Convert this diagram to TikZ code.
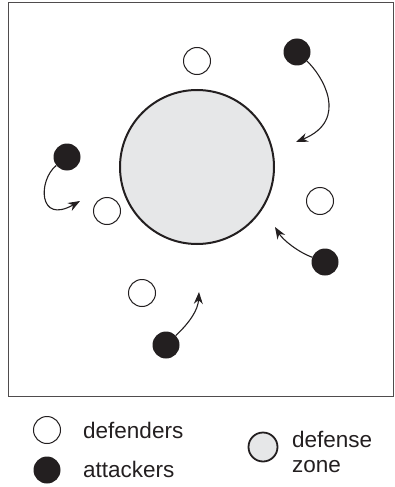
\documentclass[tikz,border=0pt]{standalone}
\usepackage{fontspec}
\setmainfont{Liberation Sans}
\usetikzlibrary{arrows.meta}
\definecolor{zonegray}{HTML}{E6E7E8}
\definecolor{ink}{HTML}{231F20}
\tikzset{
  defender/.style={circle, draw=ink, line width=1pt, fill=white, minimum size=27pt, inner sep=0pt},
  attacker/.style={circle, fill=ink, minimum size=27pt, inner sep=0pt},
  zone/.style={circle, draw=ink, line width=2pt, fill=zonegray, inner sep=0pt},
  move/.style={draw=ink, line width=1.1pt, -{Stealth[length=12pt,width=9pt]}},
  legtext/.style={anchor=base west, font=\fontsize{22.5}{24}\selectfont, text=ink, inner sep=0pt}
}
\begin{document}
\begin{tikzpicture}[x=1pt,y=-1pt]
\useasboundingbox (0,0) rectangle (395,487);
\draw[draw=ink!80, line width=1pt] (8,3) rectangle (393,396);
% defense zone
\node[zone, minimum size=154pt] (Z) at (197,167) {};
% defenders
\node[defender] (d1) at (197,61) {};
\node[defender] (d2) at (107,211) {};
\node[defender] (d3) at (320,201) {};
\node[defender] (d4) at (142,293) {};
% attackers
\node[attacker] (a1) at (297,52) {};
\node[attacker] (a2) at (67,157) {};
\node[attacker] (a3) at (325,262) {};
\node[attacker] (a4) at (166,345) {};
% arrow targets
\coordinate (t1) at (296,142);
\coordinate (t2) at (80,201);
\coordinate (t3) at (275,227);
\coordinate (t4) at (199,292);
% moves
\draw[move] (a1) .. controls (322,75) and (350,120) .. (t1);
\draw[move] (a2) .. controls (38,180) and (38,225) .. (t2);
\draw[move] (a3) .. controls (298,252) and (283,240) .. (t3);
\draw[move] (a4) .. controls (190,322) and (198,310) .. (t4);
% legend
\node[defender] (ld) at (47,430) {};
\node[attacker] (la) at (47,470) {};
\node[zone, minimum size=29pt, line width=1.8pt] (lz) at (263,447) {};
\node[legtext] (tdef) at (83,438) {defenders};
\node[legtext] (tatt) at (83,477) {attackers};
\node[legtext] (tzone1) at (292,447) {defense};
\node[legtext] (tzone2) at (292,472) {zone};
\end{tikzpicture}
\end{document}
